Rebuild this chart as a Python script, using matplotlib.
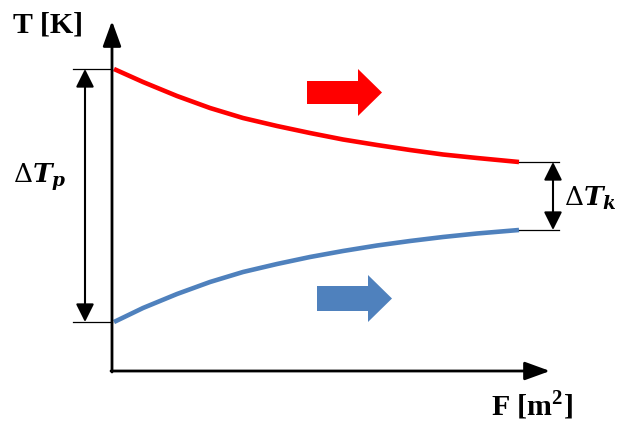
import matplotlib
matplotlib.use('Agg')
import matplotlib.pyplot as plt
from matplotlib.patches import FancyArrow

plt.rcParams['mathtext.fontset'] = 'custom'
plt.rcParams['mathtext.rm'] = 'DejaVu Serif'
plt.rcParams['mathtext.it'] = 'DejaVu Serif:italic:bold'
plt.rcParams['mathtext.bf'] = 'Liberation Serif:bold'

# curve points (pixel coords, y downwards)
hot_x = [114, 143, 177, 210, 243, 277, 310, 343, 377, 410, 443, 477, 519]
hot_y = [70, 83, 97, 109, 119, 127, 134, 140.5, 146, 151, 155.5, 159, 163]
cold_x = [114, 143, 177, 210, 243, 277, 310, 343, 377, 410, 443, 477, 519]
cold_y = [323, 309, 295, 283, 273, 265, 258, 252, 246.5, 242, 238, 234.5, 231]

red = '#ff0000'
blue = '#4f81bd'

fig = plt.figure(figsize=(6.24, 4.31), dpi=100)
ax = fig.add_axes([0, 0, 1, 1])
ax.set_xlim(0, 624)
ax.set_ylim(431, 0)
ax.axis('off')

# axes with arrow heads
ax.annotate('', xy=(112, 22), xytext=(112, 373),
            arrowprops=dict(arrowstyle='-|>,head_length=1.1,head_width=0.4', lw=2, color='black',
                            mutation_scale=14, shrinkA=0, shrinkB=0))
ax.annotate('', xy=(550, 372), xytext=(111, 372),
            arrowprops=dict(arrowstyle='-|>,head_length=1.1,head_width=0.4', lw=2, color='black',
                            mutation_scale=14, shrinkA=0, shrinkB=0))

# curves
ax.plot(hot_x, hot_y, color=red, lw=3.3, solid_capstyle='butt', solid_joinstyle='round')
ax.plot(cold_x, cold_y, color=blue, lw=3.3, solid_capstyle='butt', solid_joinstyle='round')

# guide lines
ax.plot([73, 112], [hot_y[0], hot_y[0]], color='black', lw=0.9)
ax.plot([73, 112], [cold_y[0], cold_y[0]], color='black', lw=0.9)
ax.plot([hot_x[-1], 559], [hot_y[-1], hot_y[-1]], color='black', lw=0.9)
ax.plot([cold_x[-1], 559], [cold_y[-1], cold_y[-1]], color='black', lw=0.9)

# delta arrows
dstyle = '<|-|>,head_length=1.0,head_width=0.5'
ax.annotate('', xy=(85, hot_y[0]), xytext=(85, cold_y[0]),
            arrowprops=dict(arrowstyle=dstyle, lw=1.5, color='black',
                            mutation_scale=11, shrinkA=0, shrinkB=0))
ax.annotate('', xy=(553, hot_y[-1]), xytext=(553, cold_y[-1]),
            arrowprops=dict(arrowstyle=dstyle, lw=1.5, color='black',
                            mutation_scale=11, shrinkA=0, shrinkB=0))

# flow direction block arrows
ax.add_patch(FancyArrow(307, 93.5, 75, 0, width=23, head_width=47, head_length=24,
                        length_includes_head=True, color=red, lw=0))
ax.add_patch(FancyArrow(317, 299.5, 75, 0, width=25, head_width=47, head_length=24,
                        length_includes_head=True, color=blue, lw=0))

# labels
ax.text(13, 33, 'T [K]', fontfamily='Liberation Serif', fontweight='bold', fontsize=21.5,
        ha='left', va='baseline')
ax.text(491, 415, r'F [m$^\mathbf{2}$]', fontfamily='Liberation Serif', fontweight='bold',
        fontsize=21.5, ha='left', va='baseline')
ax.text(13, 183, r'$\Delta T_p$', fontsize=19, ha='left', va='baseline')
ax.text(564, 206, r'$\Delta T_k$', fontsize=19, ha='left', va='baseline')

fig.savefig('out.png', dpi=100)
